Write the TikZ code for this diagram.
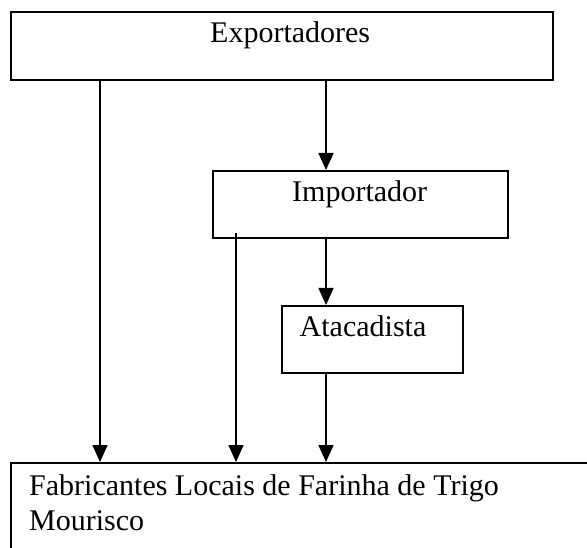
\documentclass[tikz,border=0pt]{standalone}
\usepackage{fontspec}
\setmainfont{Liberation Serif}
\usetikzlibrary{arrows.meta}
\begin{document}
\begin{tikzpicture}[x=1pt,y=1pt,
  box/.style={draw=black, line width=1.6pt, rectangle, inner sep=0pt, anchor=north west},
  lbl/.style={inner sep=0pt, anchor=base west, font=\fontsize{30}{35}\selectfont},
  arr/.style={line width=1.6pt, -{Triangle[length=17pt,width=15pt]}}]
\useasboundingbox (0,0) rectangle (587,-548);
\clip (0,0) rectangle (587,-548);
% shadow of top box
\draw[gray!60, line width=1.2pt] (11.5,-80.8) -- (553.8,-80.8) -- (553.8,-12.5);
\node[box, line width=2.2pt, minimum width=542pt, minimum height=68pt] (exp) at (10,-11) {};
\node[box, minimum width=295pt, minimum height=67pt] (imp) at (212,-170) {};
\node[box, minimum width=181pt, minimum height=67pt] (ata) at (281,-305) {};
\node[box, minimum width=640pt, minimum height=120pt] (fab) at (10,-462) {};
\node[lbl] (texp) at (210,-43) {Exportadores};
\node[lbl] (timp) at (292,-202) {Importador};
\node[lbl] (tata) at (299.5,-337) {Atacadista};
\node[lbl] (tfab1) at (29,-495) {Fabricantes Locais de Farinha de Trigo};
\node[lbl] (tfab2) at (29,-530) {Mourisco};
\coordinate (cl) at (100,0);
\coordinate (cm) at (326,0);
\coordinate (ci) at (236,-233);
\draw[arr] (cl |- exp.south) -- (cl |- fab.north);
\draw[arr] (cm |- exp.south) -- (cm |- imp.north);
\draw[arr] (ci) -- (ci |- fab.north);
\draw[arr] (cm |- imp.south) -- (cm |- ata.north);
\draw[arr] (cm |- ata.south) -- (cm |- fab.north);
\end{tikzpicture}
\end{document}
